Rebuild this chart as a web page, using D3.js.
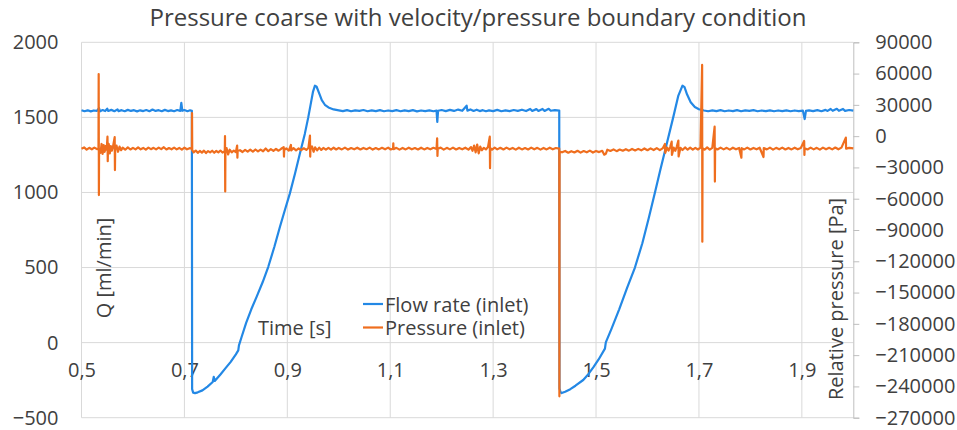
<!DOCTYPE html>
<html><head><meta charset="utf-8">
<script src="https://cdn.jsdelivr.net/npm/d3@7"></script>
<style>html,body{margin:0;padding:0;background:#fff;}svg{display:block;font-family:"Open Sans",sans-serif;}</style>
</head><body><svg id="c" width="957" height="430"></svg>
<script>
const chartTitle = "Pressure coarse with velocity/pressure boundary condition";
const xTicks = [0.5, 0.7, 0.9, 1.1, 1.3, 1.5, 1.7, 1.9];
const leftTicks = [-500, 0, 500, 1000, 1500, 2000];
const rightTicks = [-270000, -240000, -210000, -180000, -150000, -120000, -90000, -60000, -30000, 0, 30000, 60000, 90000];
const seriesNames = ["Flow rate (inlet)", "Pressure (inlet)"];
const seriesColors = ["#2388E5", "#EF6E1E"];

// Flow rate Q [ml/min] vs time [s] (left axis)
const flowRate = [
[0.500,1548],[0.506,1541],[0.512,1547],[0.518,1540],[0.524,1546],[0.530,1543],[0.534,1562],[0.536,1540],[0.541,1549],[0.546,1542],[0.550,1558],[0.552,1543],[0.558,1550],[0.564,1541],[0.570,1553],[0.572,1542],[0.578,1548],[0.584,1541],[0.590,1550],[0.596,1543],[0.602,1548],[0.608,1540],[0.614,1547],[0.620,1542],[0.626,1549],[0.632,1541],[0.638,1552],[0.644,1543],[0.650,1548],[0.656,1541],[0.662,1550],[0.668,1542],[0.674,1547],[0.680,1541],[0.686,1549],[0.692,1543],[0.694,1596],[0.696,1544],[0.700,1549],[0.706,1541],[0.711,1547],[0.7145,1544],
[0.7150,-310],[0.7170,-333],[0.7206,-336],[0.726,-331],[0.735,-318],[0.745,-293],[0.755,-262],[0.757,-228],[0.759,-255],[0.770,-212],[0.780,-170],[0.790,-128],[0.800,-78],[0.8047,-52],[0.8060,-18],[0.8113,39],[0.820,132],[0.830,222],[0.8405,306],[0.852,402],[0.863,505],[0.875,640],[0.8857,772],[0.895,880],[0.905,994],[0.915,1126],[0.9246,1261],[0.934,1390],[0.9407,1500],[0.946,1598],[0.950,1672],[0.9537,1711],[0.957,1704],[0.962,1660],[0.967,1615],[0.973,1584],[0.980,1566],[0.990,1553],[1.000,1547],
[1.008,1542],[1.016,1548],[1.024,1541],[1.032,1547],[1.040,1543],[1.048,1549],[1.056,1541],[1.064,1547],[1.072,1542],[1.080,1548],[1.088,1541],[1.096,1546],[1.104,1542],[1.112,1548],[1.120,1541],[1.128,1547],[1.136,1542],[1.144,1548],[1.152,1540],[1.160,1546],[1.168,1542],[1.176,1547],[1.184,1541],[1.190,1545],[1.1915,1470],[1.193,1544],[1.200,1549],[1.208,1542],[1.216,1550],[1.224,1543],[1.232,1552],[1.240,1544],[1.2485,1578],[1.250,1545],[1.256,1553],[1.262,1543],[1.268,1551],[1.274,1542],[1.280,1548],[1.286,1541],[1.292,1547],[1.300,1542],[1.308,1550],[1.316,1541],[1.324,1547],[1.332,1542],[1.340,1549],[1.348,1543],[1.356,1551],[1.364,1542],[1.372,1556],[1.376,1543],[1.384,1555],[1.388,1543],[1.396,1556],[1.400,1543],[1.408,1557],[1.412,1544],[1.420,1548],[1.4285,1545],
[1.4290,-305],[1.4310,-330],[1.4332,-336],[1.440,-327],[1.450,-310],[1.460,-287],[1.4751,-249],[1.485,-210],[1.495,-163],[1.505,-112],[1.5173,-40],[1.519,2],[1.530,92],[1.545,222],[1.560,362],[1.5756,500],[1.590,662],[1.6025,830],[1.6145,1000],[1.625,1152],[1.636,1305],[1.650,1500],[1.660,1645],[1.668,1711],[1.672,1701],[1.677,1652],[1.684,1601],[1.692,1569],[1.700,1554],[1.710,1546],
[1.718,1541],[1.726,1547],[1.734,1542],[1.742,1548],[1.750,1541],[1.758,1546],[1.766,1542],[1.774,1548],[1.782,1541],[1.790,1547],[1.798,1543],[1.806,1548],[1.814,1541],[1.822,1546],[1.830,1542],[1.838,1547],[1.846,1541],[1.854,1546],[1.862,1542],[1.870,1547],[1.878,1541],[1.886,1546],[1.894,1542],[1.902,1545],[1.9055,1489],[1.908,1543],[1.914,1547],[1.922,1542],[1.930,1548],[1.938,1541],[1.946,1550],[1.950,1543],[1.956,1556],[1.960,1544],[1.968,1557],[1.972,1544],[1.980,1556],[1.984,1543],[1.992,1549],[2.000,1545]
];

// Relative pressure [Pa] vs time [s] (right axis)
const pressure = [
[0.500,-12000],[0.505,-10800],[0.510,-12900],[0.515,-11200],[0.520,-12600],[0.525,-11000],[0.530,-12400],
[0.5330,-12000],[0.5334,59500],[0.5338,-56500],[0.5342,-12000],
[0.537,-16000],[0.539,-7500],[0.541,-17000],[0.543,-8500],[0.545,-15000],[0.547,-9500],[0.549,-13000],
[0.5505,-500],[0.5510,-24000],[0.5515,-11000],[0.553,-7500],[0.555,-16500],[0.557,-9500],[0.559,-14000],[0.561,-10500],
[0.5645,-1000],[0.5650,-32500],[0.5655,-12000],[0.568,-9000],[0.571,-15000],[0.574,-10000],[0.577,-13500],[0.580,-11000],[0.585,-13000],[0.590,-10800],[0.595,-12800],[0.600,-11200],[0.605,-12700],[0.610,-10700],[0.615,-12600],[0.620,-11300],[0.625,-12900],[0.630,-11000],[0.635,-12500],[0.640,-11200],[0.645,-12700],[0.650,-11000],[0.655,-12500],[0.660,-10600],[0.665,-12800],[0.670,-11400],[0.675,-12600],[0.680,-11000],[0.685,-12700],[0.690,-11300],[0.695,-12900],[0.700,-11100],[0.705,-12600],[0.710,-11500],[0.7145,-12000],
[0.7148,22000],[0.7152,-13500],[0.718,-15500],[0.722,-13800],[0.726,-16000],[0.730,-14200],[0.734,-15800],[0.738,-13900],[0.742,-16200],[0.746,-14300],[0.750,-15600],[0.754,-14000],[0.758,-15900],[0.762,-14200],[0.766,-15500],[0.770,-13800],[0.774,-15700],
[0.7785,-14500],[0.7789,0],[0.7793,-53000],[0.7797,-14500],[0.782,-11500],[0.785,-17500],[0.788,-13000],[0.792,-15500],[0.796,-13800],[0.800,-15300],
[0.8025,-9000],[0.8030,-20600],[0.8035,-14200],[0.808,-13500],[0.813,-15200],[0.818,-13200],[0.823,-14900],[0.828,-13000],[0.833,-14800],[0.838,-12800],[0.843,-14700],[0.848,-12900],[0.853,-14500],[0.858,-11800],[0.863,-14400],[0.868,-12500],[0.873,-14200],[0.878,-12300],[0.883,-14000],[0.888,-12100],
[0.8930,-10500],[0.8935,-19600],[0.8940,-13000],[0.898,-11800],[0.903,-13800],[0.9070,-8400],[0.9075,-13600],[0.912,-11500],[0.917,-13600],[0.922,-11800],[0.927,-13400],[0.932,-11600],[0.937,-13200],[0.941,-11400],
[0.9440,500],[0.9445,-19600],[0.9450,-12500],[0.948,-9800],[0.951,-15000],[0.954,-10800],[0.958,-13600],[0.962,-11000],[0.966,-13200],[0.970,-11300],[0.975,-13000],[0.980,-11200],[0.985,-12900],[0.990,-11100],[0.995,-12800],[1.000,-11300],
[1.006,-12700],[1.012,-11000],[1.018,-12900],[1.024,-11400],[1.030,-12600],[1.036,-11100],[1.042,-12800],[1.048,-11300],[1.054,-12500],[1.060,-11000],[1.066,-12900],[1.072,-11400],[1.078,-12700],[1.084,-11200],[1.090,-12600],[1.096,-11000],[1.101,-12800],[1.1055,-12000],[1.1060,-6800],[1.1065,-12500],[1.112,-11200],[1.118,-12900],[1.124,-11300],[1.130,-12700],[1.136,-11100],[1.142,-12600],[1.148,-11400],[1.154,-12800],[1.160,-11100],[1.166,-12700],[1.172,-11300],[1.178,-12600],[1.184,-11200],[1.190,-12300],
[1.1912,-2000],[1.1918,-19000],[1.1924,-12000],[1.198,-11000],[1.204,-12900],[1.210,-11200],[1.216,-12700],[1.222,-11000],[1.228,-12800],[1.234,-11300],[1.240,-12600],[1.246,-11100],[1.252,-12900],[1.257,-10500],[1.260,-14000],[1.263,-9000],[1.266,-15500],[1.269,-8000],[1.272,-16500],[1.275,-10000],[1.278,-13500],[1.282,-11200],[1.286,-12700],[1.290,-10500],
[1.2935,-500],[1.2940,-30800],[1.2945,-11500],[1.298,-13000],[1.303,-11000],[1.308,-12700],[1.314,-11200],[1.320,-12800],[1.326,-11000],[1.332,-12600],[1.338,-11300],[1.344,-12900],[1.350,-11100],[1.356,-12700],[1.362,-11400],[1.368,-12800],[1.374,-11000],[1.380,-12600],[1.386,-11200],[1.392,-12900],[1.398,-11300],[1.404,-12700],[1.410,-11100],[1.416,-12600],[1.422,-11400],[1.4285,-12000],
[1.4288,-249500],[1.4292,-14800],[1.434,-15500],[1.440,-14200],[1.446,-15900],[1.452,-14400],[1.458,-15600],[1.464,-14000],[1.470,-15800],[1.476,-14300],[1.482,-15500],[1.488,-13900],[1.494,-15700],[1.500,-14200],[1.506,-15300],[1.512,-14100],[1.516,-17800],[1.519,-17000],[1.522,-13000],[1.528,-14200],[1.534,-12700],[1.540,-14400],[1.546,-12800],[1.552,-14000],[1.558,-12500],[1.564,-13900],[1.570,-12300],[1.576,-13700],[1.582,-12200],[1.588,-13600],[1.594,-11800],[1.600,-13500],[1.606,-11700],[1.612,-13300],[1.618,-11500],[1.624,-13400],[1.630,-11400],
[1.634,-7500],[1.6345,-16000],[1.638,-11000],[1.641,-13800],[1.644,-10500],[1.647,-5300],[1.6475,-18000],[1.651,-11000],[1.654,-14000],[1.657,-10000],[1.660,-4300],[1.6605,-19500],[1.664,-11200],[1.668,-13300],[1.673,-10800],[1.678,-13000],[1.683,-11000],[1.688,-12900],[1.693,-11200],[1.698,-12800],[1.703,-11000],
[1.7062,68300],[1.7066,-101200],[1.7070,-11500],[1.711,-13000],[1.716,-10800],[1.721,-12900],[1.726,-11200],
[1.7305,9100],[1.7310,-43600],[1.7315,-11500],[1.736,-12800],[1.742,-11000],[1.748,-12700],[1.754,-11200],[1.760,-12900],[1.766,-11100],[1.772,-12600],[1.778,-11300],[1.7825,-20600],[1.7830,-11500],[1.788,-12700],[1.794,-11000],[1.800,-12800],[1.806,-11300],[1.812,-12600],[1.818,-11100],[1.8255,-20000],[1.8260,-11500],[1.832,-12700],[1.838,-11000],[1.844,-12900],[1.850,-11200],[1.856,-12600],[1.862,-11000],[1.868,-12800],[1.874,-11300],[1.880,-12700],[1.886,-11100],[1.892,-12600],[1.898,-11300],[1.9045,-4600],[1.9050,-18000],[1.9055,-11600],[1.911,-12800],[1.917,-11000],[1.923,-12700],[1.929,-11200],[1.935,-12900],[1.941,-11000],[1.947,-12600],[1.953,-11200],[1.959,-12700],[1.965,-10900],[1.971,-12600],[1.977,-11000],[1.9855,-1400],[1.9860,-12000],[1.992,-11200],[2.000,-11800]
];

const svg = d3.select("#c");
const L = 81.5, R = 853.3, T = 42.3, B = 417.7;
const textColor = "#404040";
const x = d3.scaleLinear().domain([0.5, 2.0]).range([L, R]);
const yL = d3.scaleLinear().domain([-500, 2000]).range([B, T]);
const yR = d3.scaleLinear().domain([-270000, 90000]).range([B, T]);
const fmtX = d => d3.format(".1f")(d).replace(".", ",");

// gridlines
const grid = svg.append("g");
grid.selectAll("line.h").data(leftTicks).join("line").attr("class","h")
  .attr("x1", L).attr("x2", R).attr("y1", d => yL(d)).attr("y2", d => yL(d))
  .attr("stroke", "#d9d9d9").attr("stroke-width", 1);
grid.selectAll("line.v").data(xTicks).join("line").attr("class","v")
  .attr("x1", d => x(d)).attr("x2", d => x(d)).attr("y1", T).attr("y2", B)
  .attr("stroke", "#d9d9d9").attr("stroke-width", 1);

// right axis
const rAxis = d3.axisRight(yR).tickValues(rightTicks).tickSize(6).tickPadding(16).tickFormat(d3.format("d"));
const rg = svg.append("g").attr("transform", `translate(${R},0)`).call(rAxis);
rg.select(".domain").attr("stroke", "#bfbfbf");
rg.selectAll(".tick line").attr("stroke", "#bfbfbf");
rg.selectAll(".tick text").attr("fill", textColor).attr("font-size", 20).attr("font-family", '"Open Sans",sans-serif');

// left axis (labels only)
const lAxis = d3.axisLeft(yL).tickValues(leftTicks).tickSize(0).tickPadding(23).tickFormat(d3.format("d"));
const lg = svg.append("g").attr("transform", `translate(${L},0)`).call(lAxis);
lg.select(".domain").remove();
lg.selectAll(".tick text").attr("fill", textColor).attr("font-size", 20).attr("font-family", '"Open Sans",sans-serif');

// x axis labels (axis at Q=0)
const xAxis = d3.axisBottom(x).tickValues(xTicks).tickSize(0).tickPadding(20).tickFormat(fmtX);
const xg = svg.append("g").attr("transform", `translate(0,${yL(0)})`).call(xAxis);
xg.select(".domain").remove();
xg.selectAll(".tick text").attr("fill", textColor).attr("font-size", 20).attr("font-family", '"Open Sans",sans-serif');

// series
const lineF = d3.line().x(d => x(d[0])).y(d => yL(d[1]));
const lineP = d3.line().x(d => x(d[0])).y(d => yR(d[1]));
svg.append("path").datum(flowRate).attr("d", lineF).attr("fill", "none")
  .attr("stroke", seriesColors[0]).attr("stroke-width", 2.2).attr("stroke-linejoin", "round");
svg.append("path").datum(pressure).attr("d", lineP).attr("fill", "none")
  .attr("stroke", seriesColors[1]).attr("stroke-width", 2.2).attr("stroke-linejoin", "round");

// title
svg.append("text").attr("x", 478).attr("y", 26).attr("text-anchor", "middle")
  .attr("font-size", 24).attr("fill", textColor).text(chartTitle);

// axis titles
svg.append("text").attr("transform", "translate(111,268) rotate(-90)").attr("text-anchor", "middle")
  .attr("font-size", 20).attr("fill", textColor).text("Q [ml/min]");
svg.append("text").attr("transform", "translate(843,400) rotate(-90)").attr("text-anchor", "start")
  .attr("font-size", 20).attr("fill", textColor).text("Relative pressure [Pa]");
svg.append("text").attr("x", 258).attr("y", 335)
  .attr("font-size", 20).attr("fill", textColor).text("Time [s]");

// legend
const lgd = svg.append("g");
seriesNames.forEach((n, i) => {
  const yy = 304 + i * 23.5;
  lgd.append("line").attr("x1", 363).attr("x2", 383).attr("y1", yy).attr("y2", yy)
    .attr("stroke", seriesColors[i]).attr("stroke-width", 2.2);
  lgd.append("text").attr("x", 385).attr("y", yy + 7.5).attr("font-size", 20)
    .attr("fill", textColor).text(n);
});
</script></body></html>
